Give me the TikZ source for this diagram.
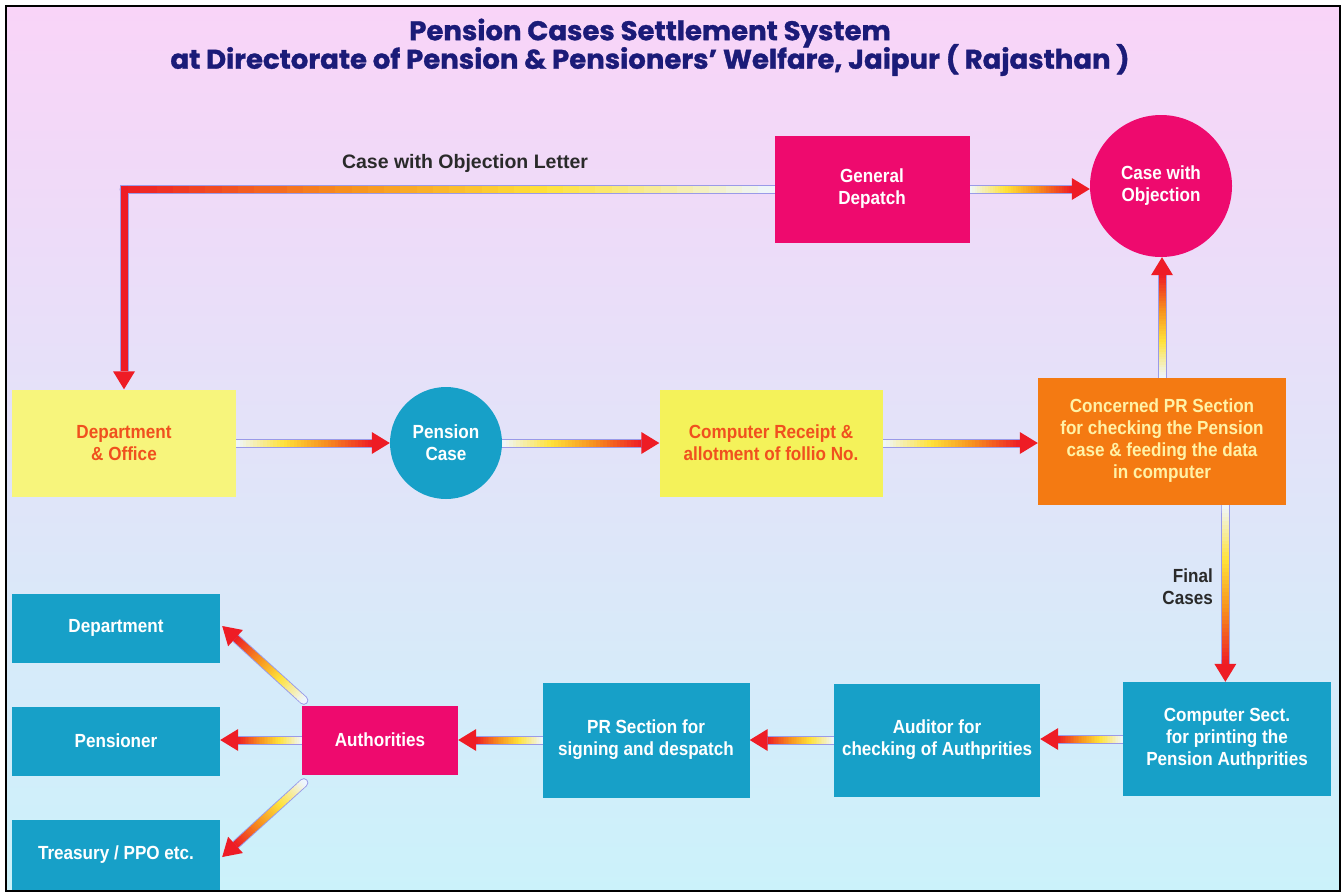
\documentclass[tikz,border=0pt]{standalone}
\usepackage{fontspec}
\usetikzlibrary{calc}
\newfontfamily\lblf[FakeStretch=0.9]{Liberation Sans}
\newfontfamily\plainf{Liberation Sans}
\newfontfamily\titf[FakeStretch=1.02,FakeBold=1.2]{Poppins}
\definecolor{bgtop}{HTML}{F9D4F8}
\definecolor{bgbot}{HTML}{CBF2FA}
\definecolor{cw}{HTML}{EEF6FF}
\definecolor{cy}{HTML}{FFE23A}
\definecolor{co}{HTML}{F7921E}
\definecolor{cr}{HTML}{EE1C25}
\definecolor{outl}{HTML}{9A9AE8}
\definecolor{pinkc}{HTML}{EE0A6E}
\definecolor{bluec}{HTML}{17A0C8}
\definecolor{yel1}{HTML}{F7F57C}
\definecolor{yel2}{HTML}{F4F25A}
\definecolor{orangec}{HTML}{F47A12}
\definecolor{redtxt}{HTML}{F0501E}
\definecolor{paleyel}{HTML}{FFF2A6}
\definecolor{titc}{HTML}{1B1B78}
\definecolor{darktxt}{HTML}{2A2A2A}
\pgfdeclarelayer{bgr}
\pgfdeclarelayer{arr}
\pgfsetlayers{bgr,arr,main}
\newcommand\gcolor[1]{%
  \ifdim#1pt<0.35pt \pgfmathtruncatemacro\pp{#1/0.35*100}\colorlet{gc}{cy!\pp!cw}%
  \else\ifdim#1pt<0.65pt \pgfmathtruncatemacro\pp{(#1-0.35)/0.3*100}\colorlet{gc}{co!\pp!cy}%
  \else \pgfmathtruncatemacro\pp{(#1-0.65)/0.35*100}\colorlet{gc}{cr!\pp!co}\fi\fi}
\newcommand\gline[2]{%
  \draw[outl, line width=9pt, line cap=round] (#1) -- (#2);
  \draw[cw, line width=7pt, line cap=round] (#1) -- ($(#1)!0.05!(#2)$);
  \foreach \k in {0,...,39}{%
    \pgfmathsetmacro\ta{\k/40}%
    \pgfmathsetmacro\tb{min((\k+1.5)/40,1)}%
    \pgfmathsetmacro\tm{(\k+0.5)/40}%
    \gcolor{\tm}%
    \draw[gc, line width=7pt] ($(#1)!\ta!(#2)$) -- ($(#1)!\tb!(#2)$);
  }%
}
\newcommand\ghead[2]{% #1 base point name, #2 tip
  \fill[cr] (#2) -- ($(#1)!11pt!90:(#2)$) -- ($(#1)!11pt!-90:(#2)$) -- cycle;
}
\newcommand\garrow[2]{%
  \coordinate (gH) at ($(#2)!18pt!(#1)$);
  \gline{#1}{gH}
  \ghead{gH}{#2}
}
\tikzset{
  lbl/.style={font={\lblf\bfseries\fontsize{19}{22}\selectfont}, align=center, inner sep=0pt},
  boxb/.style={lbl, rectangle, fill=bluec, text=white},
  boxp/.style={lbl, rectangle, fill=pinkc, text=white},
  titl/.style={text=titc, font={\titf\bfseries\fontsize{27}{30}\selectfont}, inner sep=0pt},
}
\begin{document}
\begin{tikzpicture}[x=1pt,y=-1pt]
\useasboundingbox (0,0) rectangle (1343,894);
\begin{pgfonlayer}{bgr}
\fill[white] (0,0) rectangle (1343,894);
\shade[top color=bgtop, bottom color=bgbot] (6,6) rectangle (1340,891);
\draw[black, line width=2.5pt] (6,6) rectangle (1340,891);
\end{pgfonlayer}
% title
\node[titl] (t1) at (650,33) {Pension Cases Settlement System};
\node[titl] (t2) at (650,60) {at Directorate of Pension \& Pensioners’ Welfare, Jaipur ( Rajasthan )};
% nodes
\node[boxp, minimum width=195pt, minimum height=107pt] (gd) at (872,189) {General\\Depatch};
\node[lbl, circle, fill=pinkc, text=white, minimum size=142pt] (cwo) at (1161,186) {Case with\\Objection};
\node[lbl, rectangle, fill=yel1, text=redtxt, minimum width=224pt, minimum height=107pt] (dep) at (124,443) {Department\\\& Office};
\node[lbl, circle, fill=bluec, text=white, minimum size=112pt] (pc) at (446,443) {Pension\\Case};
\node[lbl, rectangle, fill=yel2, text=redtxt, minimum width=223pt, minimum height=107pt] (cr) at (771,443) {Computer Receipt \&\\allotment of follio No.};
\node[lbl, rectangle, fill=orangec, text=paleyel, minimum width=248pt, minimum height=127pt] (cpr) at (1162,441) {Concerned PR Section\\for checking the Pension\\case \& feeding the data\\in computer};
\node[boxb, minimum width=208pt, minimum height=114pt] (cs) at (1227,739) {Computer Sect.\\for printing the\\Pension Authprities};
\node[boxb, minimum width=206pt, minimum height=113pt] (aud) at (937,740) {Auditor for\\checking of Authprities};
\node[boxb, minimum width=207pt, minimum height=115pt] (prs) at (646,740) {PR Section for\\signing and despatch};
\node[boxp, minimum width=156pt, minimum height=69pt] (auth) at (380,740) {Authorities};
\node[boxb, minimum width=208pt, minimum height=69pt] (dpt) at (116,628) {Department};
\node[boxb, minimum width=208pt, minimum height=69pt] (pen) at (116,741) {Pensioner};
\node[boxb, minimum width=208pt, minimum height=70pt] (tre) at (116,855) {Treasury / PPO etc.};
% labels
\node[font={\plainf\bfseries\fontsize{19.5}{22}\selectfont}, text=darktxt, inner sep=0pt] (lobj) at (465,163) {Case with Objection Letter};
\node[lbl, align=right, text=darktxt, anchor=east] (lfin) at (1213,587) {Final\\Cases};
% connectors
\begin{pgfonlayer}{arr}
\coordinate (corner) at (dep.north |- gd.west);
\coordinate (vH) at ($(dep.north)!18pt!(corner)$);
\draw[outl, line width=9pt] (gd.west) -- (corner) -- (vH);
\gline{gd.west}{corner}
\draw[cr, line width=7pt] ($(corner)+(-3.5,0)$) -- ($(corner)+(4,0)$);
\draw[cr, line width=7pt] ($(corner)+(0,-3.5)$) -- (vH);
\ghead{vH}{dep.north}
\coordinate (e1) at (gd.east -| cwo.west);
\garrow{gd.east}{e1}
\coordinate (e2) at (cpr.north |- cwo.south);
\garrow{cpr.north}{e2}
\garrow{dep.east}{pc.west}
\garrow{pc.east}{cr.west}
\coordinate (e3) at (cr.east -| cpr.west);
\garrow{cr.east}{e3}
\coordinate (fs) at ($(cpr.south east)!0.245!(cpr.south west)$);
\coordinate (fe) at (fs |- cs.north);
\garrow{fs}{fe}
\coordinate (e4) at (cs.west -| aud.east);
\garrow{cs.west}{e4}
\coordinate (e5) at (aud.west -| prs.east);
\garrow{aud.west}{e5}
\coordinate (e6) at (prs.west -| auth.east);
\garrow{prs.west}{e6}
\coordinate (a1) at ($(auth.north west)+(2,-5)$);
\coordinate (d1) at ($(dpt.east)+(2,-2)$);
\garrow{a1}{d1}
\coordinate (e7) at (auth.west -| pen.east);
\garrow{auth.west}{e7}
\coordinate (a3) at ($(auth.south west)+(2,8)$);
\coordinate (d3) at ($(tre.east)+(2,2)$);
\garrow{a3}{d3}
\end{pgfonlayer}
\end{tikzpicture}
\end{document}
